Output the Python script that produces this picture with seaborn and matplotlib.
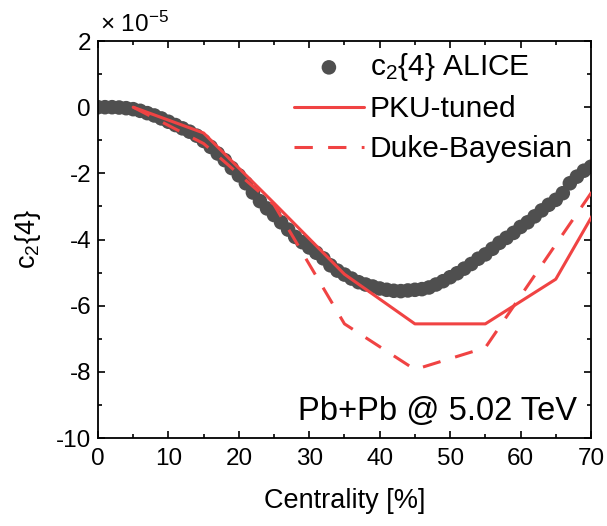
import matplotlib
matplotlib.use('Agg')
import matplotlib.pyplot as plt
import seaborn as sns
import pandas as pd
from matplotlib.ticker import MultipleLocator

# ALICE c2{4} data (units of 1e-5)
alice_cent = list(range(0, 71))
alice_c24 = [0.0, 0.0, 0.0, -0.01, -0.03, -0.06, -0.11, -0.18, -0.25, -0.34,
             -0.44, -0.54, -0.64, -0.74, -0.86, -1.02, -1.20, -1.40, -1.60, -1.84,
             -2.06, -2.30, -2.58, -2.84, -3.06, -3.26, -3.48, -3.70, -3.92, -4.08,
             -4.24, -4.40, -4.57, -4.78, -4.94, -5.06, -5.18, -5.29, -5.36, -5.42,
             -5.48, -5.52, -5.55, -5.56, -5.54, -5.52, -5.50, -5.45, -5.36, -5.26,
             -5.14, -5.02, -4.88, -4.74, -4.58, -4.45, -4.28, -4.10, -3.95, -3.80,
             -3.62, -3.48, -3.30, -3.12, -2.95, -2.80, -2.60, -2.30, -2.10, -1.92,
             -1.80]

# model curves
model_cent = [5, 15, 25, 35, 45, 55, 65, 75]
pku_c24 = [0.0, -0.78, -2.9, -5.05, -6.55, -6.55, -5.2, -1.5]
duke_c24 = [0.0, -1.1, -2.95, -6.55, -7.93, -7.27, -4.15, -1.05]

alice = pd.DataFrame({'cent': alice_cent, 'c24': alice_c24})
models = pd.DataFrame({'cent': model_cent, 'pku': pku_c24, 'duke': duke_c24})

sns.set_style('ticks')
plt.rcParams['font.family'] = ['Liberation Sans', 'DejaVu Sans']
plt.rcParams['mathtext.fontset'] = 'custom'
plt.rcParams['mathtext.rm'] = 'Liberation Sans'
plt.rcParams['mathtext.it'] = 'Liberation Sans:italic'
plt.rcParams['axes.unicode_minus'] = False
plt.rcParams['text.color'] = 'black'
plt.rcParams['axes.labelcolor'] = 'black'
plt.rcParams['xtick.color'] = 'black'
plt.rcParams['ytick.color'] = 'black'

rojo = '#f04343'
gris = '#4f4f4f'

fig = plt.figure(figsize=(6.07, 5.26), dpi=100)
ax = fig.add_axes([0.1614, 0.1673, 0.8122, 0.7547])

sns.scatterplot(data=alice, x='cent', y='c24', ax=ax, color=gris, s=110,
                edgecolor='none', label=r'c$_2${4} ALICE', zorder=2)
sns.lineplot(data=models, x='cent', y='pku', ax=ax, color=rojo, lw=2.2,
             label='PKU-tuned', zorder=3)
sns.lineplot(data=models, x='cent', y='duke', ax=ax, color=rojo, lw=2.2,
             linestyle=(0, (6, 5)), label='Duke-Bayesian', zorder=3)

ax.set_xlim(0, 70)
ax.set_ylim(-10, 2)
ax.xaxis.set_major_locator(MultipleLocator(10))
ax.xaxis.set_minor_locator(MultipleLocator(5))
ax.yaxis.set_major_locator(MultipleLocator(2))
ax.yaxis.set_minor_locator(MultipleLocator(1))
ax.tick_params(which='both', direction='in', top=True, right=True,
               width=1.2, labelsize=17.5)
ax.tick_params(axis='x', pad=7)
ax.tick_params(axis='y', pad=5)
ax.tick_params(which='major', length=5)
ax.tick_params(which='minor', length=3)
for s in ax.spines.values():
    s.set_linewidth(1.3)
    s.set_color('black')

ax.set_xlabel('Centrality [%]', fontsize=19.5, labelpad=13)
ax.set_ylabel(r'c$_2${4}', fontsize=19.5, labelpad=9)

ax.text(0.005, 1.01, r'× 10$^{-5}$', transform=ax.transAxes, fontsize=17.5,
        ha='left', va='bottom')
ax.text(0.9716, 0.045, 'Pb+Pb @ 5.02 TeV', transform=ax.transAxes,
        fontsize=23.5, ha='right', va='baseline')

ax.legend(loc='upper right', bbox_to_anchor=(0.994, 1.012), frameon=False,
          fontsize=21.5, handlelength=2.35, handletextpad=0.2,
          labelspacing=0.4, borderaxespad=0.2, borderpad=0.3)

fig.savefig('out.png', dpi=100)
